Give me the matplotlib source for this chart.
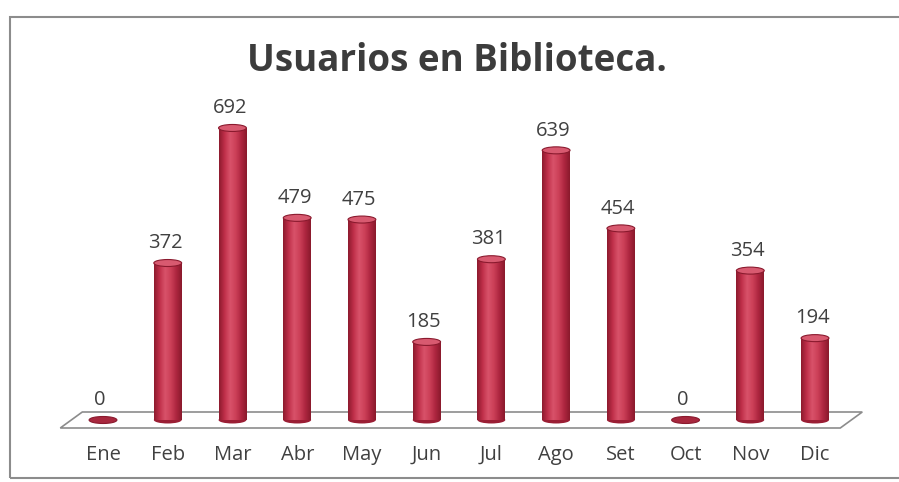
import matplotlib.pyplot as plt
import numpy as np
from matplotlib.patches import Ellipse, Rectangle, Polygon
from matplotlib.colors import LinearSegmentedColormap

meses = ['Ene', 'Feb', 'Mar', 'Abr', 'May', 'Jun', 'Jul', 'Ago', 'Set', 'Oct', 'Nov', 'Dic']
usuarios = [0, 372, 692, 479, 475, 185, 381, 639, 454, 0, 354, 194]

plt.rcParams['font.family'] = ['Open Sans', 'DejaVu Sans']

fig = plt.figure(figsize=(8.99, 4.82), dpi=100)
ax = fig.add_axes([0, 0, 1, 1])
ax.set_axis_off()

# pixel scale of the original picture
px_x = 64.73   # px per month
px_y = 0.422   # px per user
x0_px, base_px = 103, 420
ancho = 0.43
elip_h = 7 / px_y

# floor
fondo = 8 / px_y
piso = Polygon([(-0.66, -fondo), (-0.32, fondo), (11.73, fondo), (11.39, -fondo)],
               closed=True, facecolor='white', edgecolor='#8c8c8c', lw=1.2, zorder=1)
ax.add_patch(piso)

cmap = LinearSegmentedColormap.from_list('cil', ['#8e1a2e', '#c0304a', '#d8526a', '#cc4058', '#ae2640', '#8a1a2c'])
grad = np.linspace(0, 1, 64).reshape(1, -1)

for i, v in enumerate(usuarios):
    if v == 0:
        ax.add_patch(Ellipse((i, 0), ancho, elip_h, facecolor='#a8283e', edgecolor='#8a1a2e', lw=0.8, zorder=3))
    else:
        cuerpo = Rectangle((i - ancho / 2, 0), ancho, v, facecolor='none', edgecolor='none', zorder=3)
        ax.add_patch(cuerpo)
        im = ax.imshow(grad, cmap=cmap, aspect='auto', extent=[i - ancho / 2, i + ancho / 2, 0, v], zorder=3)
        im.set_clip_path(cuerpo)
        ax.add_patch(Ellipse((i, 0), ancho, elip_h, facecolor='#9a1e34', edgecolor='none', zorder=2.9))
        ax.add_patch(Ellipse((i, v), ancho, elip_h, facecolor='#d85a70', edgecolor='#8a1a2e', lw=0.8, zorder=4))
    ax.annotate(str(v), (i, v), xytext=(-2, 7), textcoords='offset points',
                ha='center', va='bottom', fontsize=14.5, color='#404040', zorder=5)
    ax.text(i, -35 / px_y, meses[i], ha='center', va='center', fontsize=14.5, color='#404040')

ax.set_xlim(-x0_px / px_x, (899 - x0_px) / px_x)
ax.set_ylim(-(482 - base_px) / px_y, base_px / px_y)

fig.text(457 / 899, 1 - 61 / 482, 'Usuarios en Biblioteca.', ha='center', va='center',
         fontsize=26.5, fontweight='bold', color='#3c3c3c')

# chart frame
fig.patches.append(Rectangle((10 / 899, 4 / 482), 1.0, (482 - 17 - 4) / 482, transform=fig.transFigure,
                             facecolor='none', edgecolor='#8c8c8c', lw=1.5))

fig.savefig('out.png', dpi=100)
